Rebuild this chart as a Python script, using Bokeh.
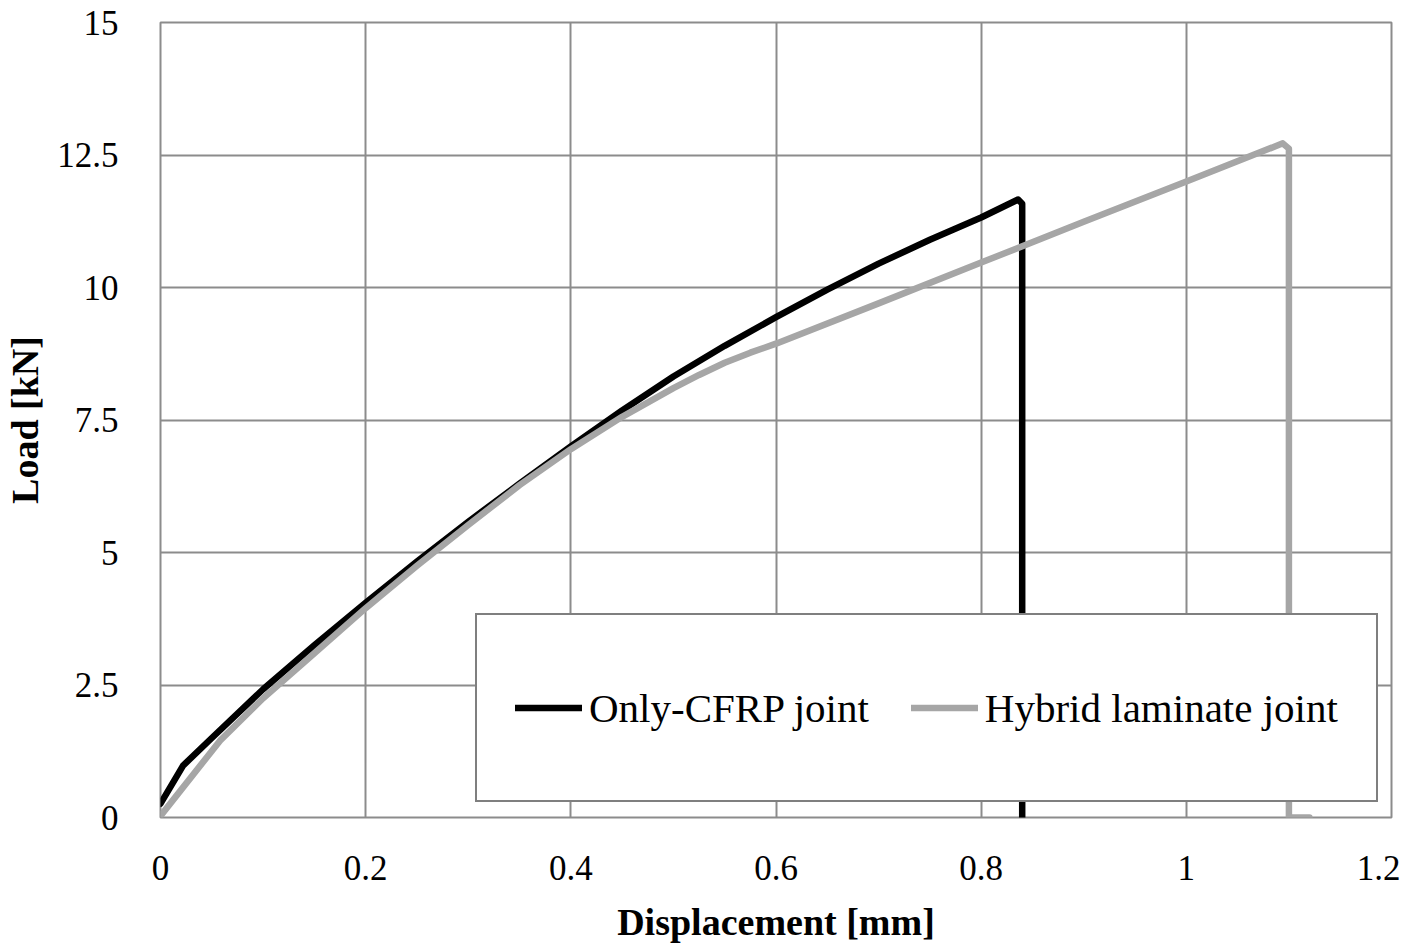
from bokeh.plotting import figure
from bokeh.models import FixedTicker, CustomJSTickFormatter, Legend, LegendItem, Range1d
from bokeh.embed import file_html
from bokeh.resources import INLINE

# Only-CFRP joint
cfrp_x = [0, 0.022, 0.05, 0.1, 0.15, 0.2, 0.25, 0.3, 0.35, 0.4, 0.45, 0.5, 0.55, 0.6,
          0.65, 0.7, 0.75, 0.8, 0.836, 0.84, 0.84]
cfrp_y = [0.26, 0.98, 1.5, 2.42, 3.25, 4.05, 4.83, 5.58, 6.3, 7.0, 7.68, 8.32, 8.9, 9.44,
          9.96, 10.45, 10.9, 11.32, 11.66, 11.58, 0]

# Hybrid laminate joint
hyb_x = [0, 0.058, 0.1, 0.15, 0.2, 0.25, 0.3, 0.35, 0.4, 0.45, 0.5, 0.525, 0.55, 0.575,
         0.6, 0.7, 0.8, 0.9, 1.0, 1.094, 1.1, 1.1, 1.12]
hyb_y = [0.03, 1.45, 2.25, 3.1, 3.95, 4.75, 5.52, 6.27, 6.95, 7.56, 8.1, 8.35, 8.58, 8.77,
         8.94, 9.7, 10.47, 11.24, 12.0, 12.72, 12.62, 0, 0]

x_ticks = [0, 0.2, 0.4, 0.6, 0.8, 1, 1.2]
y_ticks = [0, 2.5, 5, 7.5, 10, 12.5, 15]

GRID = "#8c8c8c"
FONT = "Liberation Serif"

p = figure(width=1400, height=945, output_backend="svg", toolbar_location=None,
           x_range=Range1d(0, 1.2), y_range=Range1d(0, 15),
           min_border_left=160, min_border_right=9, min_border_top=22,
           min_border_bottom=128)

p.outline_line_color = GRID
p.outline_line_width = 2

fmt = CustomJSTickFormatter(code="return tick.toString();")
p.xaxis.ticker = FixedTicker(ticks=x_ticks)
p.yaxis.ticker = FixedTicker(ticks=y_ticks)
p.xaxis.formatter = fmt
p.yaxis.formatter = fmt

for ax in (p.xaxis, p.yaxis):
    ax.axis_line_color = None
    ax.major_tick_line_color = None
    ax.minor_tick_line_color = None
    ax.major_label_text_font = FONT
    ax.major_label_text_font_size = "35px"
    ax.major_label_text_color = "black"
    ax.axis_label_text_font = FONT
    ax.axis_label_text_font_style = "bold"
    ax.axis_label_text_font_size = "38px"
    ax.axis_label_text_color = "black"

p.xaxis.axis_label = "Displacement [mm]"
p.yaxis.axis_label = "Load [kN]"
p.xaxis.major_label_standoff = 32
p.xaxis.axis_label_standoff = 18
p.yaxis.major_label_standoff = 36
p.yaxis.axis_label_standoff = 8

p.xgrid.ticker = FixedTicker(ticks=x_ticks)
p.ygrid.ticker = FixedTicker(ticks=y_ticks)
p.grid.grid_line_color = GRID
p.grid.grid_line_width = 2

r1 = p.line(cfrp_x, cfrp_y, line_color="black", line_width=6.5,
            line_cap="round", line_join="round")
r2 = p.line(hyb_x, hyb_y, line_color="#a6a6a6", line_width=6.5,
            line_cap="round", line_join="round")

legend = Legend(items=[LegendItem(label="Only-CFRP joint", renderers=[r1]),
                       LegendItem(label="Hybrid laminate joint", renderers=[r2])],
                orientation="horizontal", location=(315, 15),
                label_text_font=FONT, label_text_font_size="41px",
                label_text_color="black", label_standoff=7,
                glyph_width=67, glyph_height=109, label_height=109,
                spacing=42, padding=38, margin=0,
                border_line_color="black", border_line_width=2.5,
                background_fill_color="white", background_fill_alpha=1.0)
p.add_layout(legend, "center")

open("out.html", "w").write(file_html(p, INLINE))
